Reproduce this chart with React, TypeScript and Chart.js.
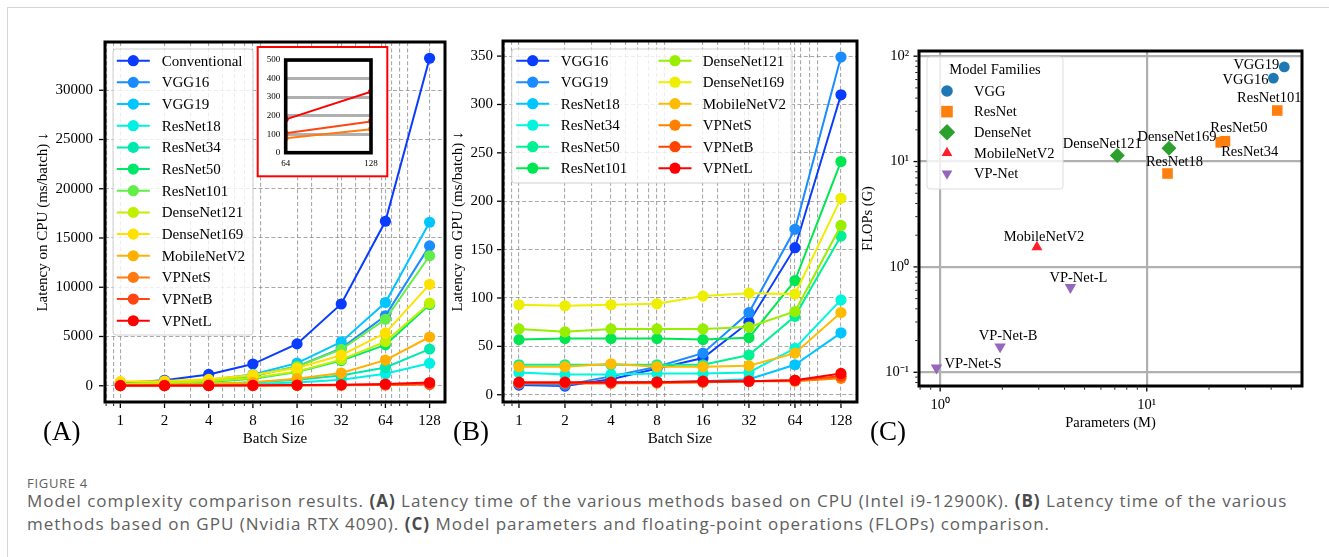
import React, { useEffect, useRef } from "react";
import { Chart, registerables } from "chart.js";

Chart.register(...registerables);

const SERIF = '"Liberation Serif", "Times New Roman", Times, serif';
const SANS = '"Open Sans", "Noto Sans", sans-serif';

// ---------------- Data ----------------
const batchSizes = [1, 2, 4, 8, 16, 32, 64, 128];
const batchTickLabels = ["1", "2", "4", "8", "16", "32", "64", "128"];

// (A) latency on CPU (ms/batch)
const cpuConventional = [270, 560, 1150, 2200, 4250, 8300, 16700, 33250];
const cpuVGG16 = [150, 280, 520, 980, 1950, 3800, 7100, 14200];
const cpuVGG19 = [170, 320, 600, 1150, 2300, 4450, 8450, 16600];
const cpuResNet18 = [40, 60, 100, 180, 340, 620, 1220, 2280];
const cpuResNet34 = [60, 90, 170, 320, 620, 1050, 1850, 3720];
const cpuResNet50 = [120, 200, 380, 720, 1400, 2550, 4150, 8250];
const cpuResNet101 = [180, 300, 560, 1020, 1960, 3700, 6750, 13200];
const cpuDenseNet121 = [200, 290, 450, 780, 1450, 2650, 4480, 8380];
const cpuDenseNet169 = [420, 480, 650, 1100, 1800, 3100, 5350, 10300];
const cpuMobileNetV2 = [60, 90, 170, 350, 700, 1290, 2600, 4950];
const cpuVPNetS = [10, 12, 16, 22, 35, 50, 78, 126];
const cpuVPNetB = [12, 15, 20, 28, 45, 65, 105, 169];
const cpuVPNetL = [15, 20, 28, 45, 70, 100, 180, 329];
const cpuNames = ["Conventional", "VGG16", "VGG19", "ResNet18", "ResNet34", "ResNet50", "ResNet101", "DenseNet121", "DenseNet169", "MobileNetV2", "VPNetS", "VPNetB", "VPNetL"];
const cpuSeries = [cpuConventional, cpuVGG16, cpuVGG19, cpuResNet18, cpuResNet34, cpuResNet50, cpuResNet101, cpuDenseNet121, cpuDenseNet169, cpuMobileNetV2, cpuVPNetS, cpuVPNetB, cpuVPNetL];
const cpuYTicks = [0, 5000, 10000, 15000, 20000, 25000, 30000];
const insetYTicks = [0, 100, 200, 300, 400, 500];
const insetXTicks = [64, 128];

// (B) latency on GPU (ms/batch)
const gpuVGG16 = [10, 9, 16, 27, 38, 75, 152, 310];
const gpuVGG19 = [11, 10, 19, 29, 43, 85, 171, 349];
const gpuResNet18 = [12, 12, 13, 13, 14, 16, 31, 64];
const gpuResNet34 = [23, 21, 21, 22, 22, 23, 48, 98];
const gpuResNet50 = [31, 31, 31, 31, 31, 41, 81, 164];
const gpuResNet101 = [57, 58, 58, 58, 57, 59, 118, 241];
const gpuDenseNet121 = [68, 65, 68, 68, 68, 70, 86, 175];
const gpuDenseNet169 = [93, 92, 93, 94, 102, 105, 104, 203];
const gpuMobileNetV2 = [29, 29, 32, 29, 29, 30, 43, 85];
const gpuVPNetS = [12, 12, 12, 12, 13, 14, 14, 17];
const gpuVPNetB = [12, 12, 12, 13, 13, 14, 15, 19];
const gpuVPNetL = [13, 13, 13, 13, 14, 14, 15, 22];
const gpuNames = ["VGG16", "VGG19", "ResNet18", "ResNet34", "ResNet50", "ResNet101", "DenseNet121", "DenseNet169", "MobileNetV2", "VPNetS", "VPNetB", "VPNetL"];
const gpuSeries = [gpuVGG16, gpuVGG19, gpuResNet18, gpuResNet34, gpuResNet50, gpuResNet101, gpuDenseNet121, gpuDenseNet169, gpuMobileNetV2, gpuVPNetS, gpuVPNetB, gpuVPNetL];
const gpuYTicks = [0, 50, 100, 150, 200, 250, 300, 350];

// (C) parameters (M) vs FLOPs (G)
const modelNames = ["VGG16", "VGG19", "ResNet18", "ResNet34", "ResNet50", "ResNet101", "DenseNet121", "DenseNet169", "MobileNetV2", "VP-Net-S", "VP-Net-B", "VP-Net-L"];
const modelFamily = ["VGG", "VGG", "ResNet", "ResNet", "ResNet", "ResNet", "DenseNet", "DenseNet", "MobileNetV2", "VP-Net", "VP-Net", "VP-Net"];
const modelParams = [41.0, 46.3, 12.6, 22.8, 23.9, 42.8, 7.2, 12.8, 2.94, 0.96, 1.95, 4.27];
const modelFlops = [62, 79, 7.7, 15.2, 15.6, 30.5, 11.4, 13.4, 1.54, 0.11, 0.175, 0.64];
const familyNames = ["VGG", "ResNet", "DenseNet", "MobileNetV2", "VP-Net"];

// ---------------- Styles ----------------
const cpuColors = ["#0a3cff", "#1a8cff", "#00c5ff", "#00f0e6", "#00e8b0", "#00e86c", "#62ee48", "#c0f000", "#ffe100", "#ffb000", "#ff7a10", "#ff4512", "#ff0000"];
const gpuColors = ["#0a3cff", "#1a8cff", "#00c5ff", "#00f5dc", "#00f095", "#00e650", "#99ee00", "#eeee00", "#ffbb00", "#ff8000", "#ff4500", "#ff0000"];
const familyStyles = {
  VGG: { color: "#1f77b4", pointStyle: "circle", radius: 5.4, rotation: 0, legend: "circle", legendR: 5.8 },
  ResNet: { color: "#ff7f0e", pointStyle: "rect", radius: 7.5, rotation: 0, legend: "square", legendR: 5.8 },
  DenseNet: { color: "#2ca02c", pointStyle: "rectRot", radius: 7.5, rotation: 0, legend: "diamond", legendR: 8.2 },
  MobileNetV2: { color: "#ff1f2a", pointStyle: "triangle", radius: 6.4, rotation: 0, legend: "triUp", legendR: 6.2 },
  "VP-Net": { color: "#9467bd", pointStyle: "triangle", radius: 6.6, rotation: 180, legend: "triDown", legendR: 6.2 },
};
const labelPlacement = {
  VGG16: { dx: -5, dy: 2, align: "right" },
  VGG19: { dx: -5, dy: -2, align: "right" },
  ResNet18: { dx: 7, dy: -11, align: "center" },
  ResNet34: { dx: 29, dy: 10, align: "center" },
  ResNet50: { dx: 14, dy: -13, align: "center" },
  ResNet101: { dx: -8, dy: -12, align: "center" },
  DenseNet121: { dx: -15, dy: -11, align: "center" },
  DenseNet169: { dx: 8, dy: -11, align: "center" },
  MobileNetV2: { dx: 7, dy: -10, align: "center" },
  "VP-Net-S": { dx: 8, dy: -4, align: "left" },
  "VP-Net-B": { dx: 8, dy: -10, align: "center" },
  "VP-Net-L": { dx: 8, dy: -9, align: "center" },
};

const GRID_DASH = "rgba(140,140,140,0.75)";
const TRANSPARENT = "rgba(0,0,0,0)";

// ---------------- helpers ----------------
function logMinorTicks(min, max) {
  const out = [];
  for (let e = -3; e <= 4; e++) {
    for (let m = 2; m <= 9; m++) {
      const v = +(m * Math.pow(10, e)).toPrecision(6);
      if (v >= min && v <= max) out.push(v);
    }
  }
  return out;
}
function isDecade(v) {
  if (!(v > 0)) return false;
  const l = Math.log10(v);
  return Math.abs(l - Math.round(l)) < 1e-6;
}
const SUP = { "-": "\u207B", "0": "\u2070", "1": "\u00B9", "2": "\u00B2", "3": "\u00B3" };
function decadeLabel(v) {
  if (!isDecade(v)) return "";
  const e = String(Math.round(Math.log10(v)));
  return "10" + e.split("").map((c) => SUP[c] || c).join("");
}
function roundRect(ctx, x, y, w, h, r) {
  ctx.beginPath();
  ctx.moveTo(x + r, y);
  ctx.lineTo(x + w - r, y);
  ctx.arcTo(x + w, y, x + w, y + r, r);
  ctx.lineTo(x + w, y + h - r);
  ctx.arcTo(x + w, y + h, x + w - r, y + h, r);
  ctx.lineTo(x + r, y + h);
  ctx.arcTo(x, y + h, x, y + h - r, r);
  ctx.lineTo(x, y + r);
  ctx.arcTo(x, y, x + r, y, r);
  ctx.closePath();
}
function drawMarker(ctx, style, x, y, r, color) {
  ctx.fillStyle = color;
  ctx.beginPath();
  if (style === "circle") ctx.arc(x, y, r, 0, Math.PI * 2);
  else if (style === "square") ctx.rect(x - r, y - r, 2 * r, 2 * r);
  else if (style === "diamond") {
    ctx.moveTo(x, y - r); ctx.lineTo(x + r, y); ctx.lineTo(x, y + r); ctx.lineTo(x - r, y); ctx.closePath();
  } else if (style === "triUp") {
    ctx.moveTo(x, y - r); ctx.lineTo(x + r * 0.866, y + r * 0.5); ctx.lineTo(x - r * 0.866, y + r * 0.5); ctx.closePath();
  } else if (style === "triDown") {
    ctx.moveTo(x, y + r); ctx.lineTo(x + r * 0.866, y - r * 0.5); ctx.lineTo(x - r * 0.866, y - r * 0.5); ctx.closePath();
  }
  ctx.fill();
}

function drawLineLegend(ctx, chart, box, cols, rowsPerCol, y0, dy) {
  ctx.save();
  roundRect(ctx, box.x, box.y, box.w, box.h, 3);
  ctx.fillStyle = "rgba(255,255,255,0.8)";
  ctx.fill();
  ctx.strokeStyle = "#d0d0d0";
  ctx.lineWidth = 1;
  ctx.stroke();
  ctx.font = `15px ${SERIF}`;
  ctx.textBaseline = "middle";
  ctx.textAlign = "left";
  chart.data.datasets.forEach((ds, i) => {
    const c = Math.floor(i / rowsPerCol);
    const r = i % rowsPerCol;
    const { mx, tx } = cols[c];
    const y = y0 + r * dy;
    ctx.strokeStyle = ds.borderColor;
    ctx.lineWidth = 2;
    ctx.beginPath();
    ctx.moveTo(mx - 16.5, y);
    ctx.lineTo(mx + 16.5, y);
    ctx.stroke();
    drawMarker(ctx, "circle", mx, y, 5.6, ds.borderColor);
    ctx.fillStyle = "#000";
    ctx.fillText(ds.label, tx, y + 1);
  });
  ctx.restore();
}

function makeDecor(o) {
  return {
    id: "decor",
    beforeDraw(chart) {
      if (o.background) o.background(chart);
    },
    afterDatasetsDraw(chart) {
      const ctx = chart.ctx;
      const a = chart.chartArea;
      ctx.save();
      if (o.labels) o.labels(chart);
      ctx.strokeStyle = "#000";
      ctx.lineWidth = o.frameWidth;
      ctx.strokeRect(a.left, a.top, a.right - a.left, a.bottom - a.top);
      const hw = o.frameWidth / 2;
      if (o.tickMarks) {
        const xs = chart.scales.x;
        const ys = chart.scales.y;
        xs.ticks.forEach((t) => {
          const major = o.xMajor(t.value);
          const len = major ? o.majorLen : o.minorLen;
          const px = xs.getPixelForValue(t.value);
          ctx.lineWidth = major ? 1.3 : 0.9;
          ctx.beginPath();
          ctx.moveTo(px, a.bottom + hw);
          ctx.lineTo(px, a.bottom + hw + len);
          ctx.stroke();
        });
        ys.ticks.forEach((t) => {
          const major = o.yMajor(t.value);
          const len = major ? o.majorLen : o.minorLen;
          const py = ys.getPixelForValue(t.value);
          ctx.lineWidth = major ? 1.3 : 0.9;
          ctx.beginPath();
          ctx.moveTo(a.left - hw, py);
          ctx.lineTo(a.left - hw - len, py);
          ctx.stroke();
        });
      }
      if (o.legend) o.legend(ctx, chart);
      if (o.letter) {
        ctx.fillStyle = "#000";
        ctx.font = `27px ${SERIF}`;
        ctx.textAlign = "left";
        ctx.textBaseline = "middle";
        ctx.fillText(o.letter.text, o.letter.x, o.letter.y);
      }
      ctx.restore();
    },
  };
}

function batchAxis(xMin, xMax, height) {
  const minors = logMinorTicks(xMin, xMax).filter((v) => !batchSizes.includes(v));
  const vals = [...minors, ...batchSizes].sort((p, q) => p - q);
  return {
    type: "logarithmic",
    position: "bottom",
    min: xMin,
    max: xMax,
    afterBuildTicks: (s) => { s.ticks = vals.map((v) => ({ value: v })); },
    afterFit: (s) => { s.height = height; },
    ticks: {
      autoSkip: false, maxRotation: 0, minRotation: 0, padding: 5, color: "#000",
      font: { family: SERIF, size: 15 },
      callback: (v) => { const i = batchSizes.indexOf(Number(v)); return i >= 0 ? batchTickLabels[i] : ""; },
    },
    grid: { color: GRID_DASH, lineWidth: 1.1, drawTicks: true, tickLength: 5, tickColor: TRANSPARENT },
    border: { display: false, dash: [4, 2.4] },
    title: { display: true, text: "Batch Size", color: "#000", font: { family: SERIF, size: 15 }, padding: { top: 0, bottom: 12 } },
  };
}

function latencyAxis(yMin, yMax, ticks, width, labelPad, title, titlePad) {
  return {
    type: "linear",
    position: "left",
    min: yMin,
    max: yMax,
    afterBuildTicks: (s) => { s.ticks = ticks.map((v) => ({ value: v })); },
    afterFit: (s) => { s.width = width; },
    ticks: { padding: labelPad, color: "#000", font: { family: SERIF, size: 15 }, callback: (v) => String(v) },
    grid: { color: GRID_DASH, lineWidth: 1.1, drawTicks: true, tickLength: 5, tickColor: TRANSPARENT },
    border: { display: false, dash: [4, 2.4] },
    title: { display: true, text: title, color: "#000", font: { family: SERIF, size: 15 }, padding: { top: titlePad, bottom: 0 } },
  };
}

function lineDatasets(names, series, colors, radius, width) {
  return names.map((n, i) => ({
    label: n,
    data: batchSizes.map((b, j) => ({ x: b, y: series[i][j] })),
    borderColor: colors[i],
    backgroundColor: colors[i],
    pointBackgroundColor: colors[i],
    pointBorderColor: colors[i],
    pointBorderWidth: 0,
    pointRadius: radius,
    borderWidth: width,
    tension: 0,
    fill: false,
    order: names.length - i,
  }));
}

const baseOptions = {
  animation: false,
  responsive: false,
  maintainAspectRatio: false,
  devicePixelRatio: 1,
  events: [],
};

function configA() {
  const W = 470, H = 460;
  return {
    type: "line",
    data: { datasets: lineDatasets(cpuNames, cpuSeries, cpuColors, 5.6, 2) },
    options: {
      ...baseOptions,
      layout: { padding: { left: 0, top: 42, right: W - 445, bottom: 0 } },
      plugins: { legend: { display: false }, tooltip: { enabled: false } },
      scales: {
        x: batchAxis(0.786, 163, H - 402),
        y: latencyAxis(-1650, 34900, cpuYTicks, 105, 7, "Latency on CPU (ms/batch) \u2193", 34),
      },
    },
    plugins: [
      makeDecor({
        frameWidth: 3, tickMarks: true, majorLen: 4.5, minorLen: 2.5,
        xMajor: (v) => batchSizes.includes(v), yMajor: () => true,
        letter: { text: "(A)", x: 43, y: 433 },
        legend: (ctx, chart) => drawLineLegend(ctx, chart, { x: 113, y: 49, w: 140, h: 286 }, [{ mx: 133.3, tx: 161.7 }], 13, 60.7, 21.67),
      }),
    ],
  };
}

function configB() {
  const L = 440, W = 440, H = 460;
  return {
    type: "line",
    data: { datasets: lineDatasets(gpuNames, gpuSeries, gpuColors, 5.6, 2) },
    options: {
      ...baseOptions,
      layout: { padding: { left: 0, top: 41, right: W - (857 - L), bottom: 0 } },
      plugins: { legend: { display: false }, tooltip: { enabled: false } },
      scales: {
        x: batchAxis(0.786, 163, H - 402),
        y: latencyAxis(-7.5, 365.6, gpuYTicks, 503 - L, 5, "Latency on GPU (ms/batch) \u2193", 9),
      },
    },
    plugins: [
      makeDecor({
        frameWidth: 3, tickMarks: true, majorLen: 4.5, minorLen: 2.5,
        xMajor: (v) => batchSizes.includes(v), yMajor: () => true,
        letter: { text: "(B)", x: 453 - L, y: 433 },
        legend: (ctx, chart) => drawLineLegend(ctx, chart, { x: 511.7 - L, y: 49, w: 280.3, h: 134 },
          [{ mx: 532.7 - L, tx: 560.7 - L }, { mx: 675 - L, tx: 702.7 - L }], 6, 60.7, 21.5),
      }),
    ],
  };
}

function configC() {
  const L = 850, W = 479, H = 460;
  const xMin = 0.79, xMax = 56.4, yMin = 0.0741, yMax = 112;
  const xTicks = [...logMinorTicks(xMin, xMax), 1, 10].sort((p, q) => p - q);
  const yTicks = [...logMinorTicks(yMin, yMax), 0.1, 1, 10, 100].sort((p, q) => p - q);
  const datasets = familyNames.map((f) => {
    const st = familyStyles[f];
    const pts = [];
    modelNames.forEach((n, i) => { if (modelFamily[i] === f) pts.push({ x: modelParams[i], y: modelFlops[i] }); });
    return {
      label: f,
      data: pts,
      pointStyle: st.pointStyle,
      pointRadius: st.radius,
      pointRotation: st.rotation,
      pointBackgroundColor: st.color,
      pointBorderColor: st.color,
      pointBorderWidth: 0,
      backgroundColor: st.color,
      borderColor: st.color,
    };
  });
  const axisFont = { family: SERIF, size: 14.5 };
  return {
    type: "scatter",
    data: { datasets },
    options: {
      ...baseOptions,
      layout: { padding: { left: 0, top: 51, right: W - (1302 - L), bottom: 0 } },
      plugins: { legend: { display: false }, tooltip: { enabled: false } },
      scales: {
        x: {
          type: "logarithmic", position: "bottom", min: xMin, max: xMax,
          afterBuildTicks: (s) => { s.ticks = xTicks.map((v) => ({ value: v })); },
          afterFit: (s) => { s.height = H - 386; },
          ticks: { autoSkip: false, maxRotation: 0, minRotation: 0, padding: 6, color: "#000", font: axisFont, callback: (v) => decadeLabel(Number(v)) },
          grid: { color: (c) => (c.tick && isDecade(c.tick.value) ? "#b0b0b0" : TRANSPARENT), lineWidth: 2.2, drawTicks: true, tickLength: 4, tickColor: TRANSPARENT },
          border: { display: false },
          title: { display: true, text: "Parameters (M)", color: "#000", font: axisFont, padding: { top: 0, bottom: 28 } },
        },
        y: {
          type: "logarithmic", position: "left", min: yMin, max: yMax,
          afterBuildTicks: (s) => { s.ticks = yTicks.map((v) => ({ value: v })); },
          afterFit: (s) => { s.width = 919 - L; },
          ticks: { autoSkip: false, padding: 5, color: "#000", font: axisFont, callback: (v) => decadeLabel(Number(v)) },
          grid: { color: (c) => (c.tick && isDecade(c.tick.value) ? "#b0b0b0" : TRANSPARENT), lineWidth: 2.2, drawTicks: true, tickLength: 5, tickColor: TRANSPARENT },
          border: { display: false },
          title: { display: true, text: "FLOPs (G)", color: "#000", font: axisFont, padding: { top: 9, bottom: 0 } },
        },
      },
    },
    plugins: [
      makeDecor({
        frameWidth: 3, tickMarks: true, majorLen: 4, minorLen: 2.2,
        xMajor: isDecade, yMajor: isDecade,
        letter: { text: "(C)", x: 870 - L, y: 433 },
        labels: (chart) => {
          const ctx = chart.ctx;
          const xs = chart.scales.x, ys = chart.scales.y;
          ctx.save();
          ctx.font = `14.5px ${SERIF}`;
          ctx.fillStyle = "#000";
          ctx.textBaseline = "middle";
          modelNames.forEach((n, i) => {
            const p = labelPlacement[n];
            const px = xs.getPixelForValue(modelParams[i]);
            const py = ys.getPixelForValue(modelFlops[i]);
            ctx.textAlign = p.align;
            ctx.fillText(n, px + p.dx, py + p.dy);
          });
          ctx.restore();
        },
        legend: (ctx) => {
          ctx.save();
          roundRect(ctx, 927 - L, 57, 136, 132, 3);
          ctx.fillStyle = "rgba(255,255,255,0.8)";
          ctx.fill();
          ctx.strokeStyle = "#dddddd";
          ctx.lineWidth = 1;
          ctx.stroke();
          ctx.font = `14.5px ${SERIF}`;
          ctx.fillStyle = "#000";
          ctx.textBaseline = "middle";
          ctx.textAlign = "center";
          ctx.fillText("Model Families", 995 - L, 70);
          ctx.textAlign = "left";
          familyNames.forEach((f, i) => {
            const st = familyStyles[f];
            const y = 91 + i * 20.65;
            drawMarker(ctx, st.legend, 947 - L, y, st.legendR, st.color);
            ctx.fillStyle = "#000";
            ctx.fillText(f, 974 - L, y + 1);
          });
          ctx.restore();
        },
      }),
    ],
  };
}

function configInset() {
  const W = 135, H = 135;
  const idx = [cpuNames.indexOf("VPNetS"), cpuNames.indexOf("VPNetB"), cpuNames.indexOf("VPNetL")];
  const datasets = idx.map((k, i) => ({
    label: cpuNames[k],
    data: insetXTicks.map((b) => ({ x: b, y: cpuSeries[k][batchSizes.indexOf(b)] })),
    borderColor: cpuColors[k],
    backgroundColor: cpuColors[k],
    pointBackgroundColor: cpuColors[k],
    pointBorderWidth: 0,
    pointRadius: 3,
    borderWidth: 2,
    tension: 0,
    order: idx.length - i,
  }));
  const f = { family: SERIF, size: 9 };
  return {
    type: "line",
    data: { datasets },
    options: {
      ...baseOptions,
      layout: { padding: { left: 0, top: 16, right: W - 116, bottom: 0 } },
      plugins: { legend: { display: false }, tooltip: { enabled: false } },
      scales: {
        x: {
          type: "linear", min: 64, max: 128,
          afterBuildTicks: (s) => { s.ticks = insetXTicks.map((v) => ({ value: v })); },
          afterFit: (s) => { s.height = H - 108.7; },
          ticks: { padding: 3.5, color: "#000", font: f, maxRotation: 0, callback: (v) => String(v) },
          grid: { color: TRANSPARENT, drawTicks: true, tickLength: 2, tickColor: TRANSPARENT },
          border: { display: false },
        },
        y: {
          type: "linear", min: 0, max: 500,
          afterBuildTicks: (s) => { s.ticks = insetYTicks.map((v) => ({ value: v })); },
          afterFit: (s) => { s.width = 30.7; },
          ticks: { padding: 3.5, color: "#000", font: f, callback: (v) => String(v) },
          grid: { color: "#b0b0b0", lineWidth: 3, drawTicks: true, tickLength: 2, tickColor: TRANSPARENT },
          border: { display: false },
        },
      },
    },
    plugins: [
      makeDecor({
        frameWidth: 3.6, tickMarks: false,
        background: (chart) => {
          const ctx = chart.ctx;
          ctx.save();
          ctx.fillStyle = "#fff";
          ctx.fillRect(1.7, 2, 131.6, 131.3);
          ctx.strokeStyle = "#ff0000";
          ctx.lineWidth = 2;
          ctx.strokeRect(2.7, 3, 129.6, 129.3);
          ctx.restore();
        },
      }),
    ],
  };
}

Chart.defaults.font.family = SERIF;

export default function App() {
  const refA = useRef(null);
  const refB = useRef(null);
  const refC = useRef(null);
  const refI = useRef(null);
  useEffect(() => {
    const charts = [
      new Chart(refA.current, configA()),
      new Chart(refB.current, configB()),
      new Chart(refC.current, configC()),
      new Chart(refI.current, configInset()),
    ];
    return () => charts.forEach((c) => c.destroy());
  }, []);
  const abs = (l, t) => ({ position: "absolute", left: l, top: t });
  const bold = { color: "#4a4a4a", fontWeight: 700 };
  return (
    <div style={{ position: "absolute", left: 0, top: 0, width: 1329, height: 557, background: "#fff", overflow: "hidden" }}>
      <div style={{ position: "absolute", left: 7, top: 7, width: 1340, height: 570, borderTop: "1px solid #d6d6d6", borderLeft: "1px solid #d6d6d6" }} />
      <canvas ref={refA} width={470} height={460} style={abs(0, 0)} />
      <canvas ref={refB} width={440} height={460} style={abs(440, 0)} />
      <canvas ref={refC} width={479} height={460} style={abs(850, 0)} />
      <canvas ref={refI} width={135} height={135} style={abs(255, 44)} />
      <div style={{ ...abs(27, 474), font: `500 13px ${SANS}`, letterSpacing: "0.7px", color: "#606060", whiteSpace: "nowrap" }}>FIGURE 4</div>
      <div style={{ ...abs(27, 489), font: `17px ${SANS}`, letterSpacing: "1px", lineHeight: "23px", color: "#606060", whiteSpace: "nowrap" }}>
        Model complexity comparison results. <span style={bold}>(A)</span> Latency time of the various methods based on CPU (Intel i9-12900K). <span style={bold}>(B)</span> Latency time of the various
        <br />
        methods based on GPU (Nvidia RTX 4090). <span style={bold}>(C)</span> Model parameters and floating-point operations (FLOPs) comparison.
      </div>
    </div>
  );
}
